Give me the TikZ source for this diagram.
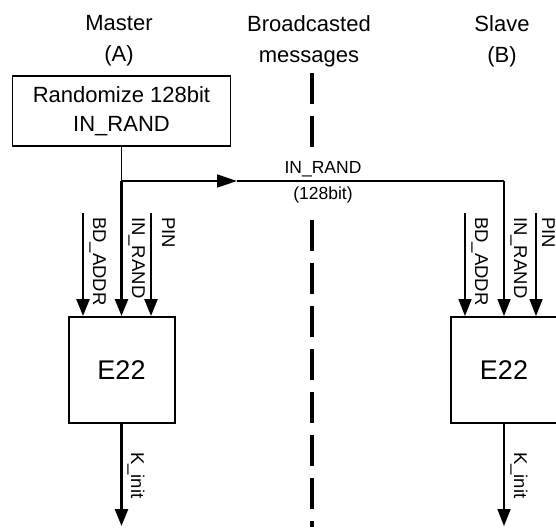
\documentclass[tikz,border=0pt]{standalone}
\usepackage{fontspec}
\setmainfont{Liberation Sans}
\usetikzlibrary{arrows.meta}
\begin{document}
\begin{tikzpicture}[x=1pt,y=-1pt,
  hdr/.style={font=\fontsize{22}{31}\selectfont, align=center, inner sep=0pt},
  lbl/.style={font=\fontsize{17.5}{20}\selectfont, inner sep=0pt},
  rlbl/.style={font=\fontsize{18.5}{20}\selectfont, inner sep=0pt, rotate=-90, anchor=base west},
  blk/.style={draw, line width=2pt, minimum width=106pt, minimum height=106pt,
              font=\fontsize{27}{30}\selectfont, inner sep=0pt},
  inarr/.style={line width=2.5pt, -{Triangle[length=17pt,width=13pt]}},
  inarrb/.style={line width=1.8pt, -{Triangle[length=17pt,width=13pt]}},
  thin/.style={line width=1.5pt},
  bcast/.style={line width=4pt, dash pattern=on 31pt off 12pt}]
\useasboundingbox (0,0) rectangle (556,527);

% headers
\node[hdr] (master) at (119,41) {Master\\(A)};
\node[hdr] (bc) at (309,41) {Broadcasted\\messages};
\node[hdr] (slave) at (502,41) {Slave\\(B)};

% randomize box
\node[draw, line width=1.5pt, minimum width=218pt, minimum height=70pt,
      align=center, inner sep=0pt, font=\fontsize{22}{28.5}\selectfont]
      (rand) at (121.5,111) {Randomize 128bit\\IN\_RAND};

% E22 blocks
\node[blk] (ea) at (121.5,370) {E22};
\node[blk] (eb) at (504,370) {E22};

% broadcast dashed line
\coordinate (d1) at (311.5,73);
\coordinate (d2) at (311.5,148);
\coordinate (d3) at (311.5,220);
\coordinate (d4) at (311.5,527);
\draw[bcast] (d1) -- (d2);
\draw[bcast] (d3) -- (d4);

% IN_RAND distribution
\coordinate (j) at (121.5,181);
\coordinate (m) at (237,181);
\coordinate (k) at (504,181);
\draw[thin] (rand.south) -- (j);
\draw[thin, -{Triangle[length=20pt,width=13pt]}] (j) -- (m);
\draw[thin] (m) -- (k);
\node[lbl] (lr) at (323,169) {IN\_RAND};
\node[lbl] (lb) at (323,195) {(128bit)};

% master inputs
\coordinate (abd) at (83,213);
\coordinate (apin) at (151,213);
\draw[inarr] (abd) -- (abd |- ea.north);
\draw[inarr] (j) -- (ea.north);
\draw[inarr] (apin) -- (apin |- ea.north);
\node[rlbl] (labd) at (93,217) {BD\_ADDR};
\node[rlbl] (lair) at (132,217) {IN\_RAND};
\node[rlbl] (lapin) at (162,217) {PIN};

% slave inputs
\coordinate (bbd) at (465,213);
\coordinate (bpin) at (536,213);
\draw[inarrb] (bbd) -- (bbd |- eb.north);
\draw[inarrb] (k) -- (eb.north);
\draw[inarrb] (bpin) -- (bpin |- eb.north);
\node[rlbl] (lbbd) at (475,217) {BD\_ADDR};
\node[rlbl] (lbir) at (514,217) {IN\_RAND};
\node[rlbl] (lbpin) at (542,217) {PIN};

% outputs
\coordinate (ka) at (121.5,526);
\coordinate (kb) at (504,526);
\draw[inarr] (ea.south) -- (ka);
\draw[inarrb] (eb.south) -- (kb);
\node[rlbl] (lka) at (131,452) {K\_init};
\node[rlbl] (lkb) at (514,452) {K\_init};
\end{tikzpicture}
\end{document}
